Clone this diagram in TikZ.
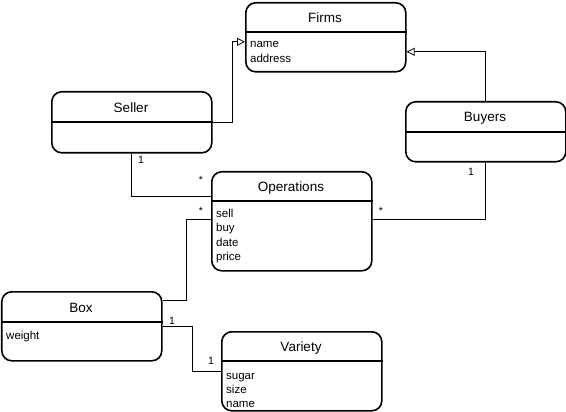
\documentclass[tikz,border=0pt]{standalone}
\usepackage{fontspec}
\setmainfont{Liberation Sans}
\usetikzlibrary{arrows.meta,calc}
\begin{document}
\begin{tikzpicture}[x=1pt,y=-1pt,
  entity/.style={draw, line width=1.6pt, rounded corners=10pt, minimum width=160pt, inner sep=0pt, anchor=north west},
  div/.style={line width=1.4pt},
  ttl/.style={font=\fontsize{13.5}{15}\selectfont, inner sep=0pt},
  attrs/.style={font=\fontsize{11.5}{14.3}\selectfont, align=left, anchor=north west, inner sep=0pt},
  conn/.style={line width=0.8pt},
  inh/.style={conn, -{Triangle[open, length=8pt, width=8pt]}},
  mult/.style={font=\fontsize{10.5}{12}\selectfont, inner sep=0pt}]
\useasboundingbox (0,0) rectangle (566,412);

% Firms
\node[entity, minimum height=69pt] (firms) at (245,2) {};
\draw[div] ($(firms.north west)+(0,30)$) -- ($(firms.north east)+(0,30)$);
\node[ttl] (firmsT) at (325,18) {Firms};
\node[attrs] (firmsA) at (250,41.5) {name\\address};

% Seller
\node[entity, minimum height=61pt] (seller) at (51,91) {};
\draw[div] ($(seller.north west)+(0,31)$) -- ($(seller.north east)+(0,31)$);
\node[ttl] (sellerT) at (131,108) {Seller};

% Buyers
\node[entity, minimum height=60pt] (buyers) at (405,101) {};
\draw[div] ($(buyers.north west)+(0,31)$) -- ($(buyers.north east)+(0,31)$);
\node[ttl] (buyersT) at (485,118) {Buyers};

% Operations
\node[entity, minimum height=99pt] (ops) at (211,171) {};
\draw[div] ($(ops.north west)+(0,30)$) -- ($(ops.north east)+(0,30)$);
\node[ttl] (opsT) at (291,188) {Operations};
\node[attrs] (opsA) at (216,209) {sell\\buy\\date\\price};

% Box
\node[entity, minimum height=69pt] (box) at (1,291) {};
\draw[div] ($(box.north west)+(0,31)$) -- ($(box.north east)+(0,31)$);
\node[ttl] (boxT) at (81,308) {Box};
\node[attrs] (boxA) at (6,331) {weight};

% Variety
\node[entity, minimum height=79pt] (variety) at (221,331) {};
\draw[div] ($(variety.north west)+(0,30)$) -- ($(variety.north east)+(0,30)$);
\node[ttl] (varT) at (301,348) {Variety};
\node[attrs] (varA) at (226,373) {sugar\\size\\name};

% Connectors
\draw[inh] (seller.east) -- ++(20,0) |- ([yshift=-4.5pt]firms.west);
\draw[inh] (buyers.north) |- ([yshift=-14.5pt]firms.east);
\draw[conn] (seller.south) |- ([yshift=24.5pt]ops.west);
\draw[conn] (buyers.south) |- ([yshift=1.5pt]ops.east);
\draw[conn] ([yshift=1.5pt]ops.west) -- ++(-25,0) |- ([yshift=25.5pt]box.east);
\draw[conn] (box.east) -- ++(30,0) |- (variety.west);

% Multiplicities
\node[mult] (m1) at (141,160) {1};
\node[mult] (m2) at (201,180) {*};
\node[mult] (m3) at (201,211) {*};
\node[mult] (m4) at (381,211) {*};
\node[mult] (m5) at (471,172) {1};
\node[mult] (m6) at (172,321) {1};
\node[mult] (m7) at (211,361) {1};
\end{tikzpicture}
\end{document}
